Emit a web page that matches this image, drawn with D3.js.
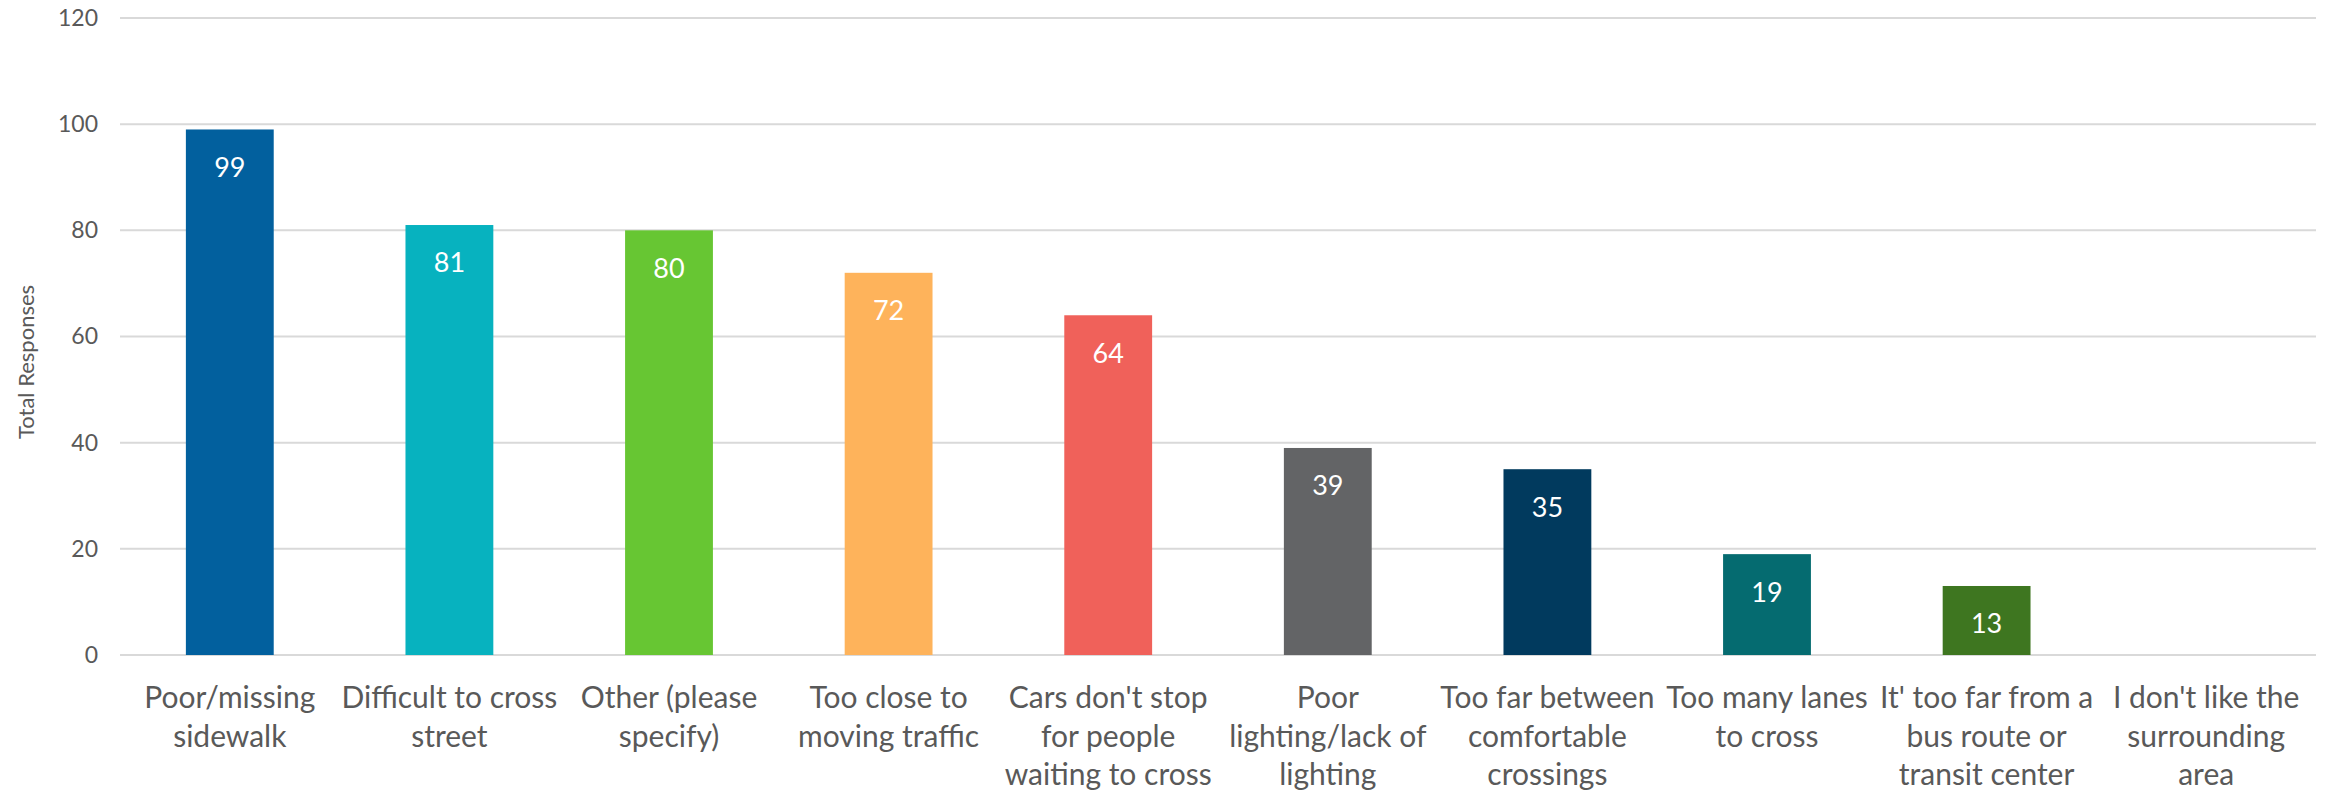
<!DOCTYPE html>
<html>
<head>
<meta charset="utf-8">
<script src="https://cdn.jsdelivr.net/npm/d3@7"></script>
<style>
  html, body { margin: 0; padding: 0; background: #ffffff; }
  svg { display: block; }
</style>
</head>
<body>
<svg id="chart" width="2328" height="791"></svg>
<script>
// Survey responses: reasons people give for not walking
const categories = [
  "Poor/missing\nsidewalk",
  "Difficult to cross\nstreet",
  "Other (please\nspecify)",
  "Too close to\nmoving traffic",
  "Cars don't stop\nfor people\nwaiting to cross",
  "Poor\nlighting/lack of\nlighting",
  "Too far between\ncomfortable\ncrossings",
  "Too many lanes\nto cross",
  "It' too far from a\nbus route or\ntransit center",
  "I don't like the\nsurrounding\narea"
];
const responses = [99, 81, 80, 72, 64, 39, 35, 19, 13, 0];
const barColors = ["#02609e", "#07b2bf", "#67c633", "#feb35b", "#f0615a",
                   "#636466", "#013a5e", "#056b70", "#3e7620", "#999999"];
const yTicks = [0, 20, 40, 60, 80, 100, 120];
const yTitle = "Total Responses";

const svg = d3.select("#chart");
const plot = { left: 120, right: 2316, top: 18, bottom: 655 };

const x = d3.scaleBand()
  .domain(categories)
  .range([plot.left, plot.right])
  .paddingInner(0.6)
  .paddingOuter(0.3);

const y = d3.scaleLinear()
  .domain([0, 120])
  .range([plot.bottom, plot.top]);

const textColor = "#595959";
const font = "Lato, 'Open Sans', sans-serif";

// horizontal gridlines
svg.append("g")
  .selectAll("line")
  .data(yTicks)
  .join("line")
  .attr("x1", plot.left)
  .attr("x2", plot.right)
  .attr("y1", d => y(d))
  .attr("y2", d => y(d))
  .attr("stroke", "#d9d9d9")
  .attr("stroke-width", 2);

// y tick labels
const yAxis = d3.axisLeft(y).tickValues(yTicks).tickSize(0).tickPadding(0);
const yG = svg.append("g")
  .attr("transform", `translate(${plot.left - 22},0)`)
  .call(yAxis);
yG.select(".domain").remove();
yG.selectAll("text")
  .attr("fill", textColor)
  .style("font-family", font)
  .style("font-size", "23px");

// y axis title
svg.append("text")
  .attr("transform", "translate(26,362) rotate(-90)")
  .attr("text-anchor", "middle")
  .attr("dy", "0.35em")
  .attr("fill", textColor)
  .style("font-family", font)
  .style("font-size", "22px")
  .text(yTitle);

// bars
svg.append("g")
  .selectAll("rect")
  .data(categories)
  .join("rect")
  .attr("x", d => x(d))
  .attr("width", x.bandwidth())
  .attr("y", (d, i) => y(responses[i]))
  .attr("height", (d, i) => y(0) - y(responses[i]))
  .attr("fill", (d, i) => barColors[i]);

// value labels inside the top of each bar
svg.append("g")
  .selectAll("text")
  .data(categories.filter((d, i) => responses[i] > 0))
  .join("text")
  .attr("x", d => x(d) + x.bandwidth() / 2)
  .attr("y", d => y(responses[categories.indexOf(d)]) + 38)
  .attr("dy", "0.35em")
  .attr("text-anchor", "middle")
  .attr("fill", "#ffffff")
  .style("font-family", font)
  .style("font-size", "27px")
  .text(d => responses[categories.indexOf(d)]);

// category labels, wrapped on line breaks
const catG = svg.append("g");
categories.forEach(c => {
  const t = catG.append("text")
    .attr("text-anchor", "middle")
    .attr("fill", textColor)
    .style("font-family", font)
    .style("font-size", "30px");
  c.split("\n").forEach((line, k) => {
    t.append("tspan")
      .attr("x", x(c) + x.bandwidth() / 2)
      .attr("y", 708 + k * 38.6)
      .text(line);
  });
});
</script>
</body>
</html>
